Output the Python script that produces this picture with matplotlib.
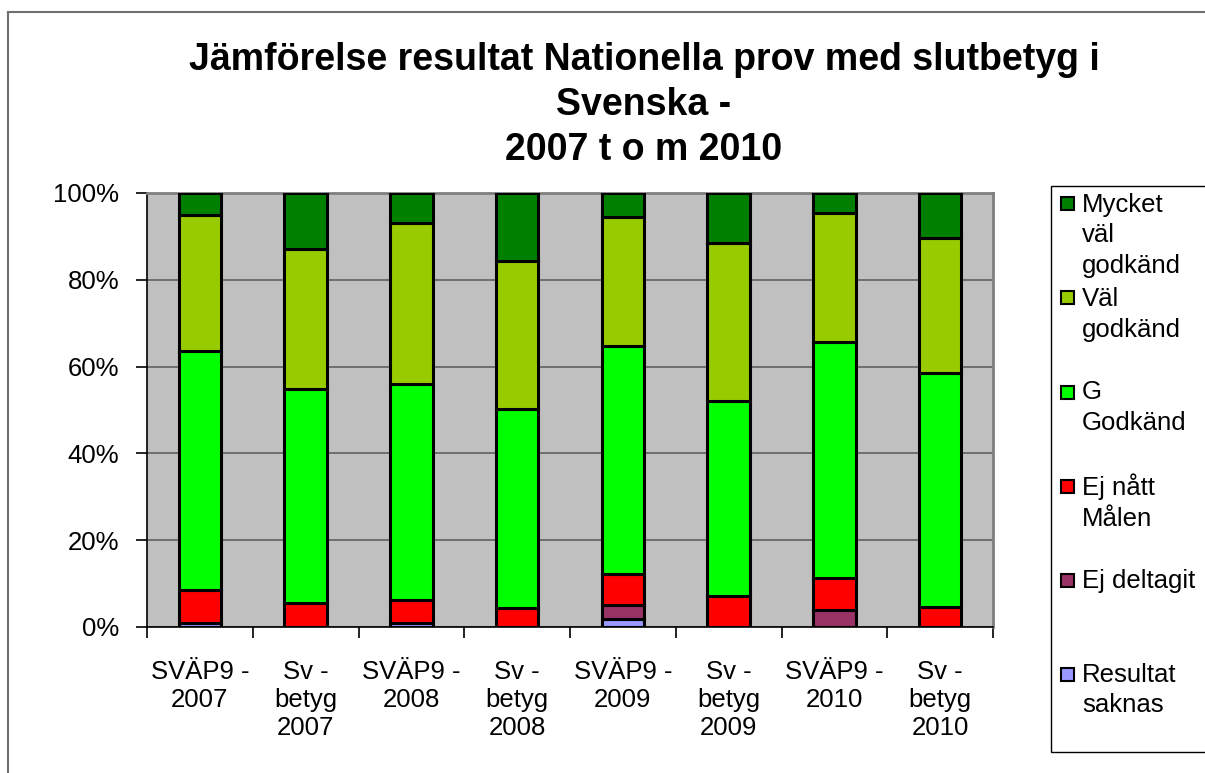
import matplotlib
matplotlib.use("Agg")
import matplotlib.pyplot as plt
from matplotlib.patches import Rectangle
from matplotlib.lines import Line2D
import numpy as np

plt.rcParams['font.family'] = ['Liberation Sans', 'DejaVu Sans']

categories = ["SVÄP9 -\n2007", "Sv -\nbetyg\n2007", "SVÄP9 -\n2008", "Sv -\nbetyg\n2008",
              "SVÄP9 -\n2009", "Sv -\nbetyg\n2009", "SVÄP9 -\n2010", "Sv -\nbetyg\n2010"]

# percentages, bottom to top
resultat_saknas = [1.0, 0.0, 1.0, 0.0, 1.8, 0.0, 0.0, 0.0]
ej_deltagit     = [0.0, 0.0, 0.0, 0.0, 3.3, 0.0, 3.9, 0.0]
ej_natt_malen   = [7.5, 5.6, 5.2, 4.3, 7.1, 7.1, 7.5, 4.7]
g_godkand       = [55.0, 49.3, 49.8, 45.9, 52.6, 44.9, 54.3, 53.8]
val_godkand     = [31.5, 32.1, 37.0, 34.2, 29.6, 36.4, 29.8, 31.1]
mycket_val      = [5.0, 13.0, 7.0, 15.6, 5.6, 11.6, 4.5, 10.4]

series = [
    ("Resultat\nsaknas", resultat_saknas, "#9999FF"),
    ("Ej deltagit", ej_deltagit, "#993366"),
    ("Ej nått\nMålen", ej_natt_malen, "#FF0000"),
    ("G\nGodkänd", g_godkand, "#00FF00"),
    ("Väl\ngodkänd", val_godkand, "#99CC00"),
    ("Mycket\nväl\ngodkänd", mycket_val, "#008000"),
]

W, H = 1205, 773
fig = plt.figure(figsize=(W / 100, H / 100), dpi=100)
ax = fig.add_axes([147 / W, 1 - 627 / H, (993 - 147) / W, (627 - 193) / H])
ax.set_facecolor("#C0C0C0")

x = np.arange(len(categories))
totals = np.sum([s[1] for s in series], axis=0)
bottom = np.zeros(len(categories))
for name, vals, col in series:
    v = np.array(vals) / totals * 100
    ax.bar(x, v, width=0.4, bottom=bottom, color=col, edgecolor="black", linewidth=2.2, zorder=3)
    bottom += v

ax.set_xlim(-0.5, len(categories) - 0.5)
ax.set_ylim(0, 100)
ax.set_yticks([0, 20, 40, 60, 80, 100])
ax.set_yticklabels(["0%", "20%", "40%", "60%", "80%", "100%"], fontsize=18.5)
ax.yaxis.grid(True, color="#606060", linewidth=1.2, zorder=0)
ax.set_axisbelow(True)

ax.set_xticks(x)
ax.set_xticklabels(categories, fontsize=18.5, linespacing=1.19, va="top")
ax.set_xticks(np.arange(-0.5, len(categories)), minor=True)
ax.tick_params(axis="x", which="major", length=0, pad=24)
ax.tick_params(axis="x", which="minor", length=8, width=1.2, direction="out", color="black")
ax.tick_params(axis="y", length=8, width=1.2, direction="out", pad=12, color="black")

ax.spines["left"].set_color("black")
ax.spines["bottom"].set_color("black")
ax.spines["left"].set_linewidth(1.2)
ax.spines["bottom"].set_linewidth(1.2)
ax.spines["top"].set_color("#808080")
ax.spines["right"].set_color("#808080")
ax.spines["top"].set_linewidth(2)
ax.spines["right"].set_linewidth(2)

# Title
title_lines = ["Jämförelse resultat Nationella prov med slutbetyg i", "Svenska -", "2007 t o m 2010"]
for i, t in enumerate(title_lines):
    fig.text(644 / W, 1 - (60 + 45 * i) / H, t, ha="center", va="center",
             fontsize=27, fontweight="bold")

# Chart area frame (cropped)
fig.add_artist(Line2D([8 / W, 1.0], [1 - 12 / H, 1 - 12 / H], transform=fig.transFigure,
                      color="#707070", linewidth=1.5))
fig.add_artist(Line2D([8 / W, 8 / W], [1 - 12 / H, 0], transform=fig.transFigure,
                      color="#707070", linewidth=1.5))

# Legend box
lx0, ly0, ly1 = 1051, 186, 752
fig.add_artist(Rectangle((lx0 / W, 1 - ly1 / H), (W + 10 - lx0) / W, (ly1 - ly0) / H,
                         transform=fig.transFigure, facecolor="white", edgecolor="black",
                         linewidth=1.0))
legend_order = list(reversed(series))
baselines = [212, 306, 399, 495, 588, 682]
sq_centers = [203, 298, 392, 486, 580, 674]
for (name, vals, col), bl, sc in zip(legend_order, baselines, sq_centers):
    fig.add_artist(Rectangle((1061 / W, 1 - (sc + 6.5) / H), 13 / W, 13 / H,
                             transform=fig.transFigure, facecolor=col, edgecolor="black",
                             linewidth=1.5))
    for j, line in enumerate(name.split("\n")):
        fig.text(1082 / W, 1 - (bl + 30.5 * j) / H, line, ha="left", va="baseline",
                 fontsize=18.5)

fig.savefig("out.png", dpi=100)
